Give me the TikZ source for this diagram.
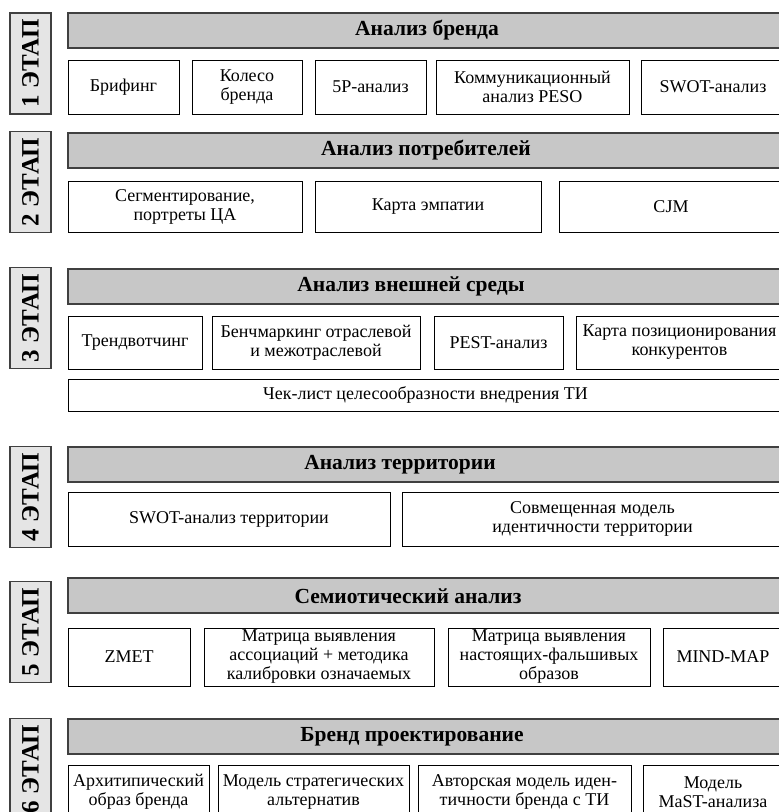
\documentclass[tikz,border=0pt]{standalone}
\usepackage{fontspec}
\setmainfont{Liberation Serif}
\tikzset{
  cell/.style={draw=black,line width=0.9pt,fill=white,inner sep=1pt,outer sep=0pt,
    align=center,anchor=north west,font=\fontsize{18}{19}\selectfont},
  bar/.style={draw=black!75,line width=1.4pt,fill=black!22,outer sep=0pt,
    anchor=north west,minimum width=717pt,minimum height=35pt},
  title/.style={font=\fontsize{21.5}{23}\selectfont\bfseries,inner sep=0pt},
  stage/.style={draw=black!75,line width=1.2pt,fill=black!10,rotate=90,
    minimum width=101pt,minimum height=41pt,inner sep=0pt,
    font=\fontsize{25}{27}\selectfont\bfseries}
}

\begin{document}
\begin{tikzpicture}[x=1pt,y=-1pt]
\useasboundingbox (0,0) rectangle (779,812);
\clip (0,0) rectangle (779,812);
% ---------- stage 1: brand ----------
\node[stage] (s1) at (30.5,63.5) {1 ЭТАП};
\node[bar] (b1) at (68,13) {};
\node[title] (t1) at (427,30.5) {Анализ бренда};
\node[cell,minimum width=111pt,minimum height=54pt] (brief) at (68,60) {Брифинг};
\node[cell,minimum width=110pt,minimum height=54pt] (wheel) at (192,60) {Колесо\\бренда};
\node[cell,minimum width=111pt,minimum height=54pt] (fivep) at (315,60) {5P-анализ};
\node[cell,minimum width=193pt,minimum height=54pt] (peso) at (436,60) {Коммуникационный\\анализ PESO};
\node[cell,minimum width=144pt,minimum height=54pt] (swot) at (641,60) {SWOT-анализ};
% ---------- stage 2: consumers ----------
\node[stage] (s2) at (30.5,182) {2 ЭТАП};
\node[bar] (b2) at (68,133) {};
\node[title] (t2) at (426,150.5) {Анализ потребителей};
\node[cell,minimum width=234pt,minimum height=51pt] (segm) at (68,181) {Сегментирование,\\портреты ЦА};
\node[cell,minimum width=226pt,minimum height=51pt] (empathy) at (315,181) {Карта эмпатии};
\node[cell,minimum width=224pt,minimum height=51pt] (cjm) at (559,181) {CJM};
% ---------- stage 3: environment ----------
\node[stage] (s3) at (30.5,318) {3 ЭТАП};
\node[bar] (b3) at (68,269) {};
\node[title] (t3) at (411,286.5) {Анализ внешней среды};
\node[cell,minimum width=134pt,minimum height=53pt] (trend) at (68,316) {Трендвотчинг};
\node[cell,minimum width=208pt,minimum height=53pt] (bench) at (212,316) {Бенчмаркинг отраслевой\\и межотраслевой};
\node[cell,minimum width=129pt,minimum height=53pt] (pest) at (434,316) {PEST-анализ};
\node[cell,minimum width=207pt,minimum height=53pt] (posmap) at (576,316) {Карта позиционирования\\конкурентов};
\node[cell,minimum width=715pt,minimum height=32pt] (check) at (68,379) {Чек-лист целесообразности внедрения ТИ};
% ---------- stage 4: territory ----------
\node[stage] (s4) at (30.5,497) {4 ЭТАП};
\node[bar] (b4) at (68,447) {};
\node[title] (t4) at (400,465) {Анализ территории};
\node[cell,minimum width=322pt,minimum height=54pt] (tswot) at (68,492) {SWOT-анализ территории};
\node[cell,minimum width=381pt,minimum height=54pt] (tmodel) at (402,492) {Совмещенная модель\\идентичности территории};
% ---------- stage 5: semiotics ----------
\node[stage] (s5) at (30.5,632) {5 ЭТАП};
\node[bar] (b5) at (68,578) {};
\node[title] (t5) at (408,596) {Семиотический анализ};
\node[cell,minimum width=122pt,minimum height=58pt] (zmet) at (68,628) {ZMET};
\node[cell,minimum width=230pt,minimum height=58pt] (assoc) at (204,628) {Матрица выявления\\ассоциаций + методика\\калибровки означаемых};
\node[cell,minimum width=202pt,minimum height=58pt] (images) at (448,628) {Матрица выявления\\настоящих-фальшивых\\образов};
\node[cell,minimum width=120pt,minimum height=58pt] (mind) at (663,628) {MIND-MAP};
% ---------- stage 6: brand design ----------
\node[stage] (s6) at (30.5,769) {6 ЭТАП};
\node[bar] (b6) at (68,719) {};
\node[title] (t6) at (412,737) {Бренд проектирование};
\node[cell,minimum width=141pt,minimum height=54pt] (arch) at (68,765) {Архитипический\\образ бренда};
\node[cell,minimum width=191pt,minimum height=54pt] (strat) at (218,765) {Модель стратегических\\альтернатив};
\node[cell,minimum width=213pt,minimum height=54pt] (author) at (418,765) {Авторская модель иден-\\тичности бренда с ТИ};
\node[cell,minimum width=140pt,minimum height=54pt] (mast) at (643,765) {Модель\\MaST-анализа};
\end{tikzpicture}
\end{document}
